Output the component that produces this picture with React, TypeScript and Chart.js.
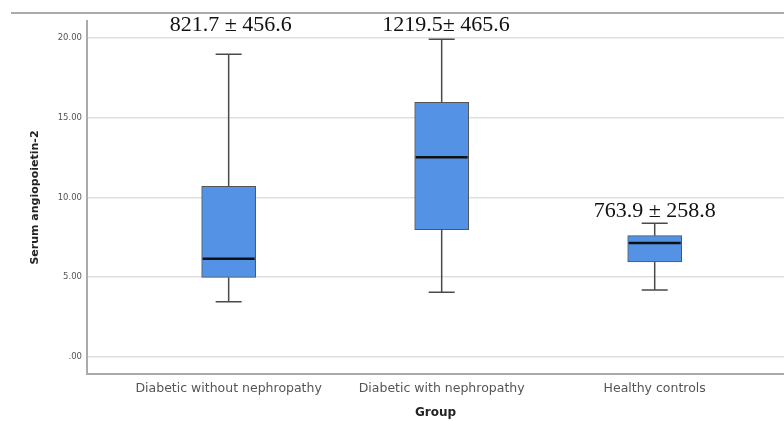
import React, { useEffect, useRef } from "react";
import { Chart, registerables } from "chart.js";

Chart.register(...registerables);

const categories = ["Diabetic without nephropathy", "Diabetic with nephropathy", "Healthy controls"];
const whiskerLow = [3.45, 4.06, 4.2];
const q1 = [4.98, 7.97, 5.96];
const median = [6.15, 12.51, 7.14];
const q3 = [10.69, 15.96, 7.6];
const whiskerHigh = [18.96, 19.9, 8.37];
const annotations = ["821.7 \u00b1 456.6", "1219.5\u00b1 465.6", "763.9 \u00b1 258.8"];
const annotationX = [1.01, 2.02, 3.0];
const annotationY = [20.4, 20.42, 8.79];
const yTicks = [0, 5, 10, 15, 20];
const yTickLabels = [".00", "5.00", "10.00", "15.00", "20.00"];

const boxPlugin = {
  id: "boxExtras",
  afterDatasetsDraw(chart: any) {
    const ctx = chart.ctx;
    const xs = chart.scales.x;
    const ys = chart.scales.y;
    ctx.save();
    for (let i = 0; i < categories.length; i++) {
      const cx = xs.getPixelForValue(i + 1);
      const half = 27;
      const cap = 13;
      ctx.strokeStyle = "#4a4a4a";
      ctx.lineWidth = 1.5;
      ctx.beginPath();
      ctx.moveTo(cx, ys.getPixelForValue(q3[i]));
      ctx.lineTo(cx, ys.getPixelForValue(whiskerHigh[i]));
      ctx.moveTo(cx - cap, ys.getPixelForValue(whiskerHigh[i]));
      ctx.lineTo(cx + cap, ys.getPixelForValue(whiskerHigh[i]));
      ctx.moveTo(cx, ys.getPixelForValue(q1[i]));
      ctx.lineTo(cx, ys.getPixelForValue(whiskerLow[i]));
      ctx.moveTo(cx - cap, ys.getPixelForValue(whiskerLow[i]));
      ctx.lineTo(cx + cap, ys.getPixelForValue(whiskerLow[i]));
      ctx.stroke();
      ctx.strokeStyle = "#111";
      ctx.lineWidth = 2.5;
      ctx.beginPath();
      ctx.moveTo(cx - half + 1, ys.getPixelForValue(median[i]));
      ctx.lineTo(cx + half - 1, ys.getPixelForValue(median[i]));
      ctx.stroke();
    }
    ctx.fillStyle = "#111";
    ctx.font = '22px "Liberation Serif", "Times New Roman", serif';
    ctx.textAlign = "center";
    ctx.textBaseline = "alphabetic";
    for (let i = 0; i < annotations.length; i++) {
      ctx.fillText(annotations[i], xs.getPixelForValue(annotationX[i]), ys.getPixelForValue(annotationY[i]));
    }
    ctx.restore();
  },
};

export default function App() {
  const ref = useRef<HTMLCanvasElement | null>(null);
  useEffect(() => {
    document.body.style.margin = "0";
    const chart = new Chart(ref.current as HTMLCanvasElement, {
      type: "bar",
      data: {
        datasets: [
          {
            data: categories.map((_, i) => ({ x: i + 1, y: [q1[i], q3[i]] })) as any,
            backgroundColor: "rgb(83,146,228)",
            borderColor: "#555",
            borderWidth: 1,
            borderSkipped: false,
            barThickness: 54,
          },
        ],
      },
      options: {
        animation: false,
        responsive: false,
        maintainAspectRatio: false,
        events: [],
        layout: { padding: { top: 21, right: 0, left: 0, bottom: 0 } },
        plugins: { legend: { display: false }, tooltip: { enabled: false } },
        scales: {
          x: {
            type: "linear",
            min: 0.335,
            max: 3.607,
            offset: false,
            grid: { display: false, drawTicks: false },
            border: { display: true, color: "#aaa", width: 2 },
            afterBuildTicks: (s: any) => {
              s.ticks = categories.map((_, i) => ({ value: i + 1 }));
            },
            afterFit: (s: any) => {
              s.height = 47;
            },
            ticks: {
              autoSkip: false,
              maxRotation: 0,
              padding: 7,
              color: "#555",
              font: { family: '"DejaVu Sans", sans-serif', size: 12.5 },
              callback: (v: any) => categories[Math.round(v) - 1] ?? "",
            },
            title: {
              display: true,
              text: "Group",
              color: "#222",
              font: { family: '"DejaVu Sans", sans-serif', size: 12, weight: "bold" },
              padding: { top: 0, bottom: 1 },
            },
          },
          y: {
            min: -1.07,
            max: 21.05,
            grid: { color: "#e0e0e0", lineWidth: 1.5, drawTicks: false },
            border: { display: true, color: "#aaa", width: 2 },
            afterBuildTicks: (s: any) => {
              s.ticks = yTicks.map((v) => ({ value: v }));
            },
            afterFit: (s: any) => {
              s.width = 87;
            },
            ticks: {
              padding: 5,
              color: "#555",
              font: { family: '"DejaVu Sans", sans-serif', size: 8.5 },
              callback: (v: any) => yTickLabels[yTicks.indexOf(v)] ?? "",
            },
            title: {
              display: true,
              text: "Serum angiopoietin-2",
              color: "#222",
              font: { family: '"DejaVu Sans", sans-serif', size: 11, weight: "bold" },
              padding: { top: 29, bottom: 0 },
            },
          },
        },
      },
      plugins: [boxPlugin],
    } as any);
    return () => chart.destroy();
  }, []);
  return (
    <div style={{ position: "relative", width: 784, height: 421, background: "#fff" }}>
      <canvas ref={ref} width={784} height={421} style={{ display: "block" }} />
      <div style={{ position: "absolute", left: 11, right: 0, top: 12, height: 0, borderTop: "2px solid #aaa" }} />
    </div>
  );
}
